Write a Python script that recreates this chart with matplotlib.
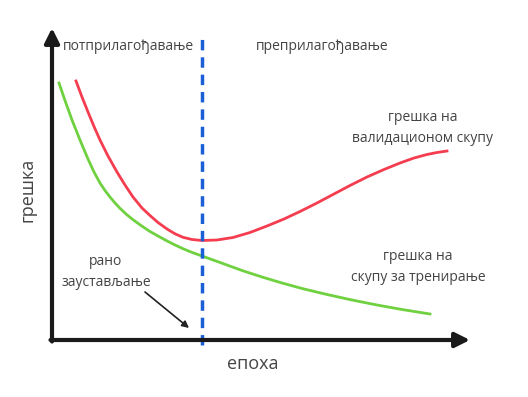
import matplotlib
matplotlib.use("Agg")
import matplotlib.pyplot as plt

plt.rcParams['font.family'] = ['Open Sans', 'DejaVu Sans']

# points (epoch, error)
train_epoch = [7, 13, 20, 28, 36, 42, 48, 53, 58, 63, 68, 74, 81, 89, 98, 106, 114, 122, 131, 140, 150,
               170, 190, 210, 230, 250, 275, 300, 325, 350, 378]
train_err = [257, 239.5, 220, 200, 181, 168, 157, 149.5, 143, 137, 131.7, 126, 120.3, 114.5, 108.5, 104,
             99.6, 95.5, 91.3, 87.6, 84,
             76.8, 69.5, 63, 57, 51.5, 45.5, 40, 35, 30.5, 26]
val_epoch = [24, 30, 36, 42, 48, 56, 65, 73, 81, 90, 98, 106, 115, 123, 131, 140, 150,
             165, 181, 198, 215, 232, 248, 265, 281, 298, 315, 332, 348, 362, 375, 385, 395]
val_err = [259, 243, 228, 213.5, 200, 184, 168, 155, 143, 132, 124.5, 117.5, 111, 106.2, 102.7, 100.5, 99.5,
           100, 102.5, 107.5, 114, 121, 128.5, 137, 145.5, 154.5, 163, 170.5, 177, 182, 185.5, 187.5, 189]
stop_epoch = 150

txt_col = '#444444'

fig = plt.figure(figsize=(5.28, 3.97), dpi=100)
ax = fig.add_axes([0, 0, 1, 1])
ax.set_xlim(-52, 476)
ax.set_ylim(-57, 340)
ax.axis('off')

# axes with arrow heads
ax.annotate('', xy=(0, 312), xytext=(0, -1.5),
            arrowprops=dict(arrowstyle='-|>', mutation_scale=22, lw=3, color='#1a1a1a', shrinkA=0, shrinkB=0))
ax.annotate('', xy=(418, 0), xytext=(-1.5, 0),
            arrowprops=dict(arrowstyle='-|>', mutation_scale=22, lw=3, color='#1a1a1a', shrinkA=0, shrinkB=0))

ax.plot(train_epoch, train_err, color='#6fd13f', lw=2, solid_joinstyle='round')
ax.plot(val_epoch, val_err, color='#f53d50', lw=2, solid_joinstyle='round')
ax.plot([stop_epoch, stop_epoch], [-5, 305], color='#1a5fd6', lw=2.5, ls=(0, (3, 2)))

ax.text(11, 293, 'потприлагођавање', color=txt_col, fontsize=10, ha='left', va='center')
ax.text(204, 293, 'преприлагођавање', color=txt_col, fontsize=10, ha='left', va='center')
ax.text(371, 212, 'грешка на\nвалидационом скупу', color=txt_col, fontsize=10,
        ha='center', va='center', linespacing=1.5)
ax.text(366, 73, 'грешка на\nскупу за тренирање', color=txt_col, fontsize=10,
        ha='center', va='center', linespacing=1.5)
ax.text(54, 68, 'рано\nзаустављање', color=txt_col, fontsize=10,
        ha='center', va='center', linespacing=1.5)
ax.text(201, -24, 'епоха', color=txt_col, fontsize=13, ha='center', va='center')
ax.text(-24, 150, 'грешка', color=txt_col, fontsize=13, ha='center', va='center', rotation=90)

ax.annotate('', xy=(137, 12), xytext=(93, 48),
            arrowprops=dict(arrowstyle='-|>', mutation_scale=10, lw=1.2, color='#222222', shrinkA=0, shrinkB=0))

fig.savefig('out.png', dpi=100)
